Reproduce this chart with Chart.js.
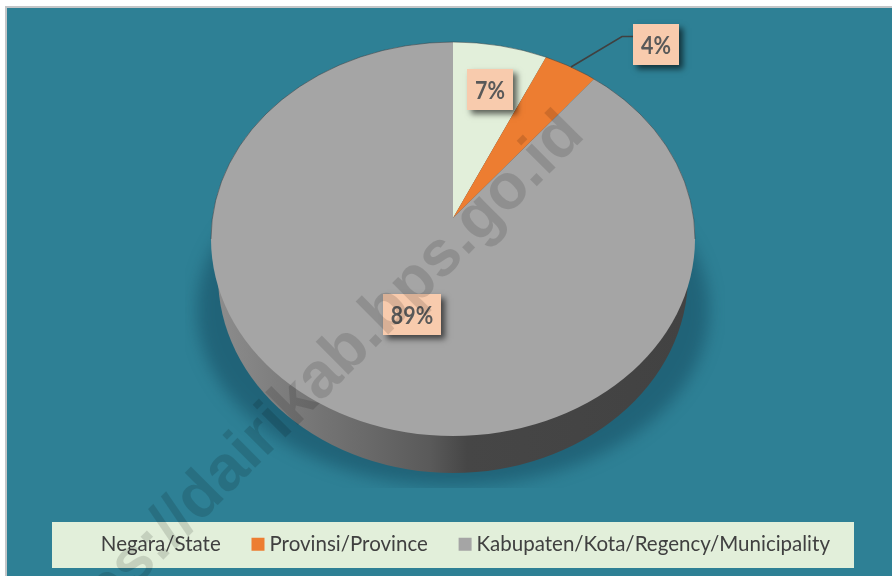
<!DOCTYPE html>
<html>
<head>
<meta charset="utf-8">
<style>
html,body{margin:0;padding:0;background:#fff;overflow:hidden}
#wrap{position:absolute;left:0;top:0;width:892px;height:576px}
</style>
<script src="https://cdn.jsdelivr.net/npm/chart.js@4"></script>
</head>
<body>
<div id="wrap"><canvas id="c" width="892" height="576"></canvas></div>
<script>
const categories = ["Negara/State", "Provinsi/Province", "Kabupaten/Kota/Regency/Municipality"];
const shares = [7, 4, 89];
const shareLabels = ["7%", "4%", "89%"];
const sliceColors = ["#e2efda", "#ed7d31", "#a5a5a5"];
const watermark = "https://dairikab.bps.go.id";

const TEAL = "#2e8095";
const top3d = {cx:453, cy:239, rx:242, ry:197};
const wall = {cx:453, cy:276, rx:235, ry:197};
const apex = {x:453, y:218, sy:0.814};
const labelBoxes = [
  {x:467,y:69,w:46,h:41},
  {x:633,y:24,w:46,h:41},
  {x:383,y:294,w:58,h:41}
];
const legendBox = {x:52,y:522,w:802,h:46};
const legendCenterY = 545;

const scene = {
  id:"scene",
  afterLayout(chart){
    const l = chart.legend;
    const dy = (legendCenterY - 11 - 36) - l.top;
    l.top += dy; l.bottom += dy;
  },
  beforeDraw(chart){
    const c = chart.ctx;
    c.save();
    c.fillStyle = "#fff"; c.fillRect(0,0,892,576);
    c.fillStyle = "#c4c6c8"; c.fillRect(5,6,887,570);
    c.fillStyle = TEAL; c.fillRect(7,8,885,568);
    // soft shadow under the pie
    c.save();
    c.beginPath(); c.rect(185,200,540,288); c.clip();
    c.filter = "blur(8px)";
    c.fillStyle = "rgba(15,60,80,0.42)";
    c.beginPath(); c.ellipse(453,310,256,176,0,0,Math.PI*2); c.fill();
    c.restore();
    // side wall
    const g = c.createLinearGradient(wall.cx-wall.rx,0,wall.cx+wall.rx,0);
    g.addColorStop(0,"#8c8c8c");
    g.addColorStop(0.33,"#686868");
    g.addColorStop(0.45,"#5a5a5a");
    g.addColorStop(0.53,"#464646");
    g.addColorStop(1,"#424242");
    c.fillStyle = g;
    c.beginPath();
    c.ellipse(wall.cx,wall.cy,wall.rx,wall.ry,0,0,Math.PI*2);
    c.fill();
    c.restore();
    // legend panel
    c.fillStyle = "#e2efda";
    c.fillRect(legendBox.x,legendBox.y,legendBox.w,legendBox.h);
  },
  beforeDatasetsDraw(chart){
    const c = chart.ctx, a = chart.getDatasetMeta(0).data[0];
    c.save();
    c.beginPath();
    c.ellipse(top3d.cx,top3d.cy,top3d.rx,top3d.ry,0,0,Math.PI*2);
    c.clip();
    c.translate(apex.x,apex.y);
    c.scale(1,apex.sy);
    c.translate(-a.x,-a.y);
  },
  afterDatasetsDraw(chart){
    const c = chart.ctx;
    c.restore();
    c.save();
    c.strokeStyle = "rgba(50,60,65,0.5)";
    c.lineWidth = 1;
    c.beginPath();
    c.ellipse(top3d.cx,top3d.cy,top3d.rx,top3d.ry,0,Math.PI,Math.PI*2);
    c.stroke();
    // leader line of the 4% label
    c.strokeStyle = "#404040"; c.lineWidth = 1.6;
    c.beginPath(); c.moveTo(571,67); c.lineTo(622,36.5); c.lineTo(633,36.5); c.stroke();
    // data labels
    labelBoxes.forEach((b,i)=>{
      c.save();
      c.shadowColor = "rgba(0,0,0,0.6)"; c.shadowBlur = 6; c.shadowOffsetX = 4; c.shadowOffsetY = 4;
      c.fillStyle = "#f8cbad"; c.fillRect(b.x,b.y,b.w,b.h);
      c.restore();
      c.save();
      c.fillStyle = "#595959";
      c.font = "bold 23px Lato";
      c.textAlign = "center"; c.textBaseline = "middle";
      c.translate(b.x+b.w/2, b.y+b.h/2+1);
      c.scale(0.93,1.08);
      c.fillText(shareLabels[i], 0, 0);
      c.restore();
    });
    c.restore();
  },
  afterDraw(chart){
    const c = chart.ctx;
    c.save();
    c.translate(574,124);
    c.rotate(-Math.PI/4);
    c.fillStyle = "rgba(0,0,0,0.13)";
    c.font = "bold 64px 'Liberation Sans'";
    c.textAlign = "right"; c.textBaseline = "middle";
    c.fillText(watermark,0,0);
    c.restore();
  }
};

new Chart(document.getElementById("c"),{
  type:"pie",
  data:{labels:categories,datasets:[{
    data:shares,
    backgroundColor:sliceColors,
    borderWidth:0,
    clip:false
  }]},
  options:{
    responsive:false,
    animation:false,
    radius:320,
    layout:{padding:{left:26,right:0,top:0,bottom:0}},
    plugins:{
      tooltip:{enabled:false},
      legend:{
        position:"bottom",
        labels:{
          usePointStyle:true,
          pointStyle:"rect",
          boxWidth:2.5,boxHeight:13,
          padding:36,
          color:"#404040",
          font:{family:"Lato",size:20.5}
        }
      }
    }
  },
  plugins:[scene]
});
</script>
</body>
</html>
